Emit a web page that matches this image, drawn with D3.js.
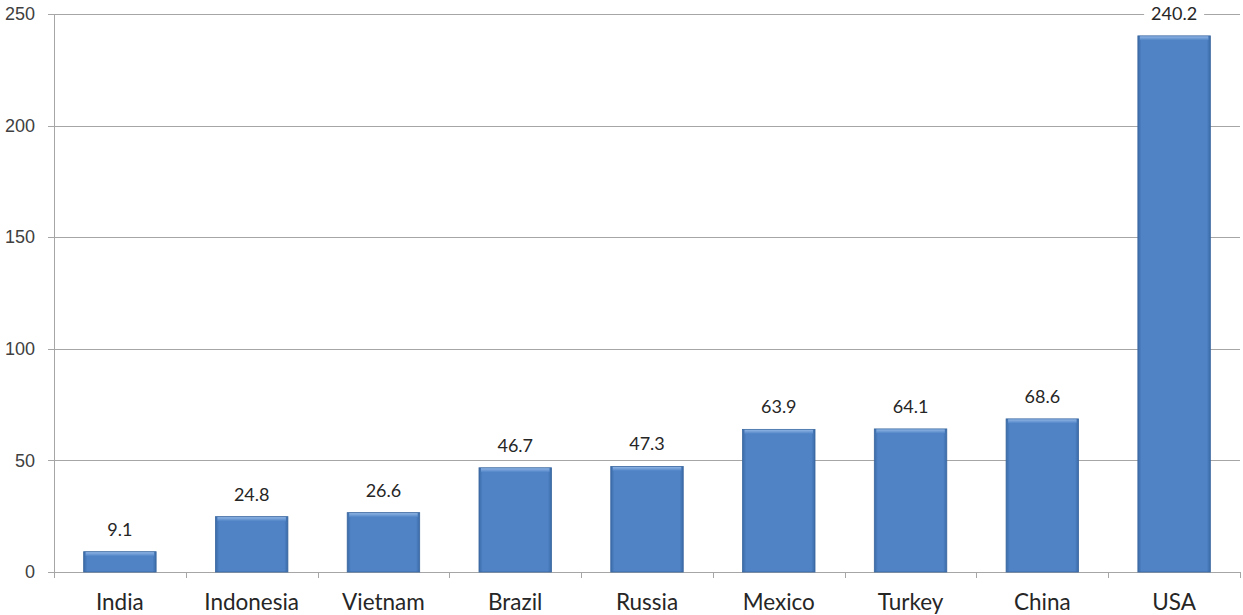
<!DOCTYPE html>
<html>
<head>
<meta charset="utf-8">
<script src="https://cdn.jsdelivr.net/npm/d3@7"></script>
<style>
  body { margin: 0; background: #fff; }
  svg { display: block; font-family: Lato, "Open Sans", sans-serif; }
  .grid line { stroke: #a6a6a6; stroke-width: 1; }
  .axis text { fill: #404040; }
  .axis path, .axis line { stroke: #a6a6a6; }
</style>
</head>
<body>
<svg id="chart"></svg>
<script>
// chart data
const countries = ['India', 'Indonesia', 'Vietnam', 'Brazil', 'Russia', 'Mexico', 'Turkey', 'China', 'USA'];
const values = [9.1, 24.8, 26.6, 46.7, 47.3, 63.9, 64.1, 68.6, 240.2];
const yTicks = [0, 50, 100, 150, 200, 250];

const width = 1243, height = 615;
const margin = { top: 14, right: 3, bottom: 43, left: 54 };
const innerW = width - margin.left - margin.right;
const innerH = height - margin.top - margin.bottom;

const svg = d3.select('#chart').attr('width', width).attr('height', height);

// bar gradient (bevel look)
const defs = svg.append('defs');
const grad = defs.append('linearGradient').attr('id', 'barGrad')
    .attr('x1', '0%').attr('x2', '100%').attr('y1', '0%').attr('y2', '0%');
grad.append('stop').attr('offset', '0%').attr('stop-color', '#3b6aa6');
grad.append('stop').attr('offset', '5%').attr('stop-color', '#4f83c6');
grad.append('stop').attr('offset', '95%').attr('stop-color', '#4f83c6');
grad.append('stop').attr('offset', '100%').attr('stop-color', '#3b6aa6');
const topGrad = defs.append('linearGradient').attr('id', 'topGrad')
    .attr('x1', '0%').attr('x2', '0%').attr('y1', '0%').attr('y2', '100%');
topGrad.append('stop').attr('offset', '0%').attr('stop-color', '#8fb4e3');
topGrad.append('stop').attr('offset', '100%').attr('stop-color', '#4f83c6');

const g = svg.append('g').attr('transform', `translate(${margin.left},${margin.top})`);

const x = d3.scaleBand().domain(countries).range([0, innerW]).paddingInner(0.45).paddingOuter(0.225);
const y = d3.scaleLinear().domain([0, 250]).range([innerH, 0]);

// gridlines
g.append('g').attr('class', 'grid')
    .selectAll('line').data(yTicks).join('line')
    .attr('x1', -6).attr('x2', innerW)
    .attr('y1', d => Math.round(y(d)) + 0.5).attr('y2', d => Math.round(y(d)) + 0.5);

// y axis
const yAxis = d3.axisLeft(y).tickValues(yTicks).tickSize(0).tickPadding(19);
const yAxisG = g.append('g').attr('class', 'axis').call(yAxis);
yAxisG.select('.domain').remove();
yAxisG.selectAll('text').style('font-size', '18px');
g.append('line').attr('x1', 0.5).attr('x2', 0.5).attr('y1', 0).attr('y2', innerH)
    .attr('stroke', '#a6a6a6');

// x axis ticks at category boundaries
const step = x.step();
g.append('g').selectAll('line').data(d3.range(countries.length + 1)).join('line')
    .attr('x1', i => Math.round(i * step) + 0.5).attr('x2', i => Math.round(i * step) + 0.5)
    .attr('y1', innerH).attr('y2', innerH + 6)
    .attr('stroke', '#a6a6a6');

g.append('g').selectAll('text').data(countries).join('text')
    .attr('x', d => x(d) + x.bandwidth() / 2)
    .attr('y', innerH + 38)
    .attr('text-anchor', 'middle')
    .attr('fill', '#262626')
    .style('font-size', '22.5px')
    .text(d => d);

// bars
const bars = g.append('g').selectAll('g').data(countries).join('g');
bars.append('rect')
    .attr('x', d => x(d))
    .attr('y', (d, i) => y(values[i]))
    .attr('width', x.bandwidth())
    .attr('height', (d, i) => innerH - y(values[i]))
    .attr('fill', 'url(#barGrad)')
    .attr('stroke', '#3a679f').attr('stroke-width', 0.8);
bars.append('rect')
    .attr('x', d => x(d) + 2)
    .attr('y', (d, i) => y(values[i]) + 0.5)
    .attr('width', x.bandwidth() - 4)
    .attr('height', 4)
    .attr('fill', 'url(#topGrad)');

// value labels
const labels = g.append('g').selectAll('g').data(countries).join('g')
    .attr('transform', (d, i) => `translate(${x(d) + x.bandwidth() / 2},${y(values[i]) - 16})`);
labels.append('rect')
    .attr('x', -30).attr('y', -15).attr('width', 60).attr('height', 20)
    .attr('fill', '#fff');
labels.append('text')
    .attr('text-anchor', 'middle')
    .attr('fill', '#262626')
    .style('font-size', '18px')
    .text((d, i) => values[i].toFixed(1));
</script>
</body>
</html>
